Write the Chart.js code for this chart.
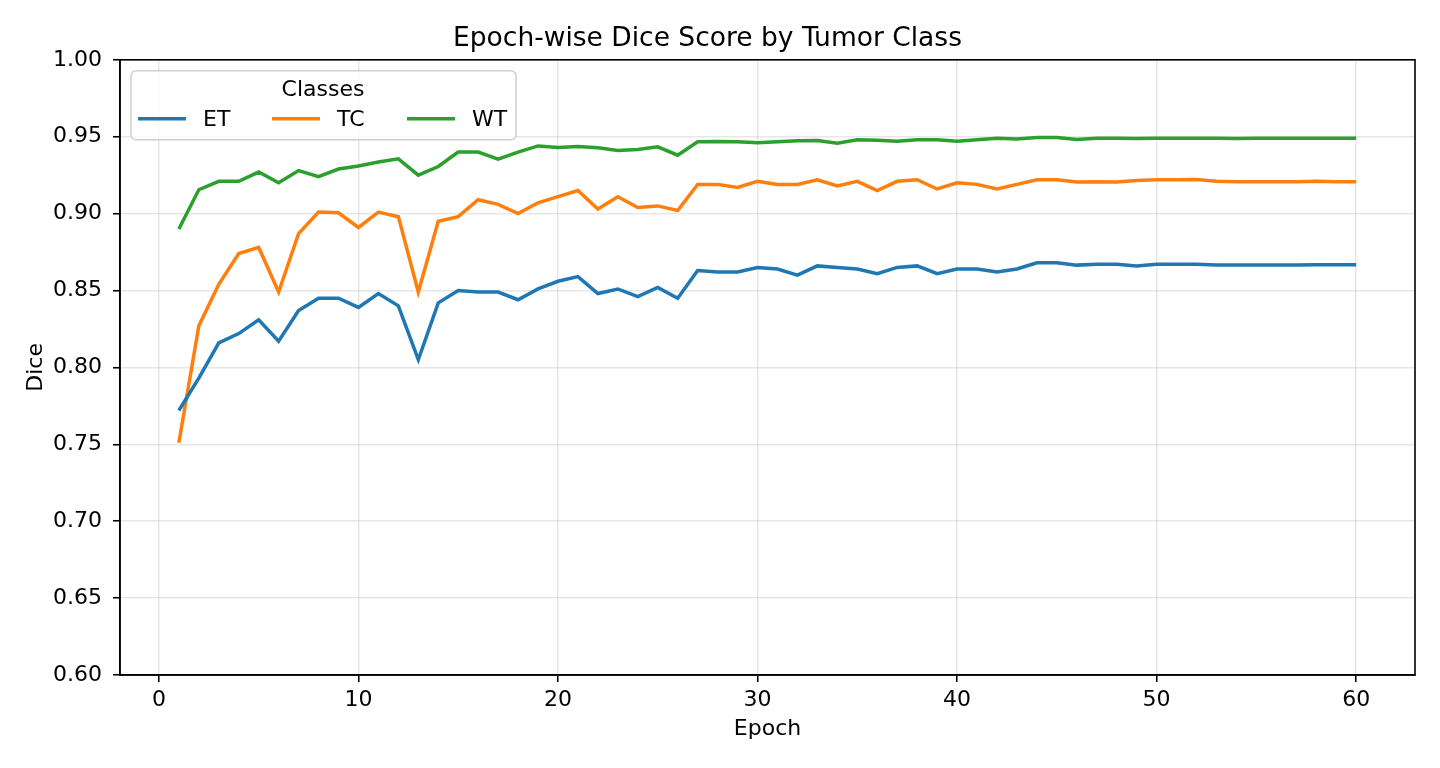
<!DOCTYPE html>
<html>
<head>
<meta charset="utf-8">
<style>
  html, body { margin: 0; padding: 0; background: #fff; }
  #wrap { width: 1440px; height: 768px; }
</style>
<script src="https://cdn.jsdelivr.net/npm/chart.js@4.4.1/dist/chart.umd.min.js"></script>
</head>
<body>
<div id="wrap"><canvas id="myChart" width="1440" height="768"></canvas></div>
<script>
const epochs = [1, 2, 3, 4, 5, 6, 7, 8, 9, 10, 11, 12, 13, 14, 15, 16, 17, 18, 19, 20,
    21, 22, 23, 24, 25, 26, 27, 28, 29, 30, 31, 32, 33, 34, 35, 36, 37, 38, 39, 40,
    41, 42, 43, 44, 45, 46, 47, 48, 49, 50, 51, 52, 53, 54, 55, 56, 57, 58, 59, 60];

const et = [0.772, 0.793, 0.816, 0.822, 0.831, 0.817, 0.837, 0.845, 0.845, 0.839,
    0.848, 0.840, 0.805, 0.842, 0.850, 0.849, 0.849, 0.844, 0.851, 0.856,
    0.859, 0.848, 0.851, 0.846, 0.852, 0.845, 0.863, 0.862, 0.862, 0.865,
    0.864, 0.860, 0.866, 0.865, 0.864, 0.861, 0.865, 0.866, 0.861, 0.864,
    0.864, 0.862, 0.864, 0.868, 0.868, 0.8665, 0.867, 0.867, 0.866, 0.867,
    0.867, 0.867, 0.8665, 0.8665, 0.8665, 0.8665, 0.8665, 0.8667, 0.8667, 0.8667];

const tc = [0.751, 0.827, 0.854, 0.874, 0.878, 0.849, 0.887, 0.901, 0.9005, 0.891,
    0.901, 0.898, 0.849, 0.895, 0.898, 0.909, 0.906, 0.900, 0.907, 0.911,
    0.915, 0.903, 0.911, 0.904, 0.905, 0.902, 0.919, 0.919, 0.917, 0.921,
    0.919, 0.919, 0.922, 0.918, 0.921, 0.915, 0.921, 0.922, 0.916, 0.920,
    0.919, 0.916, 0.919, 0.922, 0.922, 0.9205, 0.9207, 0.9205, 0.9215, 0.922,
    0.922, 0.9222, 0.921, 0.9207, 0.9207, 0.9207, 0.9207, 0.921, 0.9207, 0.9207];

const wt = [0.890, 0.9155, 0.921, 0.921, 0.927, 0.920, 0.928, 0.924, 0.929, 0.931,
    0.9335, 0.9356, 0.925, 0.9306, 0.940, 0.940, 0.9354, 0.940, 0.944, 0.943,
    0.9436, 0.9428, 0.941, 0.9417, 0.9434, 0.938, 0.9467, 0.9469, 0.9467, 0.946,
    0.9467, 0.9473, 0.9475, 0.9458, 0.948, 0.9477, 0.947, 0.948, 0.948, 0.947,
    0.948, 0.949, 0.9485, 0.9495, 0.9495, 0.9482, 0.949, 0.949, 0.9488, 0.949,
    0.949, 0.949, 0.949, 0.9488, 0.949, 0.949, 0.949, 0.949, 0.949, 0.949];

const classNames = ['ET', 'TC', 'WT'];
const xTicks = [0, 10, 20, 30, 40, 50, 60];
const yTicks = [0.60, 0.65, 0.70, 0.75, 0.80, 0.85, 0.90, 0.95, 1.00];

const FONT = "'DejaVu Sans', sans-serif";
const colors = ['#1f77b4', '#ff7f0e', '#2ca02c'];

function toPoints(vals) {
    return epochs.map((e, i) => ({x: e, y: vals[i]}));
}

// matplotlib-ish frame + legend box inside the axes
const framePlugin = {
    id: 'frame',
    afterDraw(chart) {
        const {ctx, chartArea: a} = chart;
        ctx.save();
        ctx.strokeStyle = '#000';
        ctx.lineWidth = 1.6;
        ctx.strokeRect(a.left, a.top, a.right - a.left, a.bottom - a.top);

        // legend
        const bx = a.left + 11, by = a.top + 11, bw = 385, bh = 69;
        ctx.beginPath();
        if (ctx.roundRect) ctx.roundRect(bx, by, bw, bh, 5); else ctx.rect(bx, by, bw, bh);
        ctx.fillStyle = 'rgba(255,255,255,0.8)';
        ctx.fill();
        ctx.strokeStyle = '#d0d0d0';
        ctx.lineWidth = 1.5;
        ctx.stroke();

        ctx.fillStyle = '#000';
        ctx.font = '22px ' + FONT;
        ctx.textBaseline = 'middle';
        ctx.textAlign = 'center';
        ctx.fillText('Classes', bx + 192, by + 19);

        ctx.textAlign = 'left';
        const starts = [7, 141, 276];
        chart.data.datasets.forEach((ds, i) => {
            const x0 = bx + starts[i];
            const y0 = by + 48;
            ctx.strokeStyle = ds.borderColor;
            ctx.lineWidth = 3.5;
            ctx.beginPath();
            ctx.moveTo(x0, y0);
            ctx.lineTo(x0 + 48, y0);
            ctx.stroke();
            ctx.fillStyle = '#000';
            ctx.fillText(ds.label, x0 + 65, y0 + 1);
        });
        ctx.restore();
    }
};

const ctx = document.getElementById('myChart');

new Chart(ctx, {
    type: 'line',
    data: {
        datasets: [
            {label: classNames[0], data: toPoints(et), borderColor: colors[0]},
            {label: classNames[1], data: toPoints(tc), borderColor: colors[1]},
            {label: classNames[2], data: toPoints(wt), borderColor: colors[2]}
        ].map(d => Object.assign(d, {borderWidth: 3.5, pointRadius: 0, tension: 0, fill: false}))
    },
    options: {
        responsive: false,
        devicePixelRatio: 1,
        animation: false,
        layout: {padding: {left: 0, right: 25, top: 0, bottom: 0}},
        plugins: {
            legend: {display: false},
            tooltip: {enabled: false},
            title: {
                display: true,
                text: 'Epoch-wise Dice Score by Tumor Class',
                color: '#000',
                font: {family: FONT, size: 26.5, weight: 'normal', lineHeight: 1.2},
                padding: {top: 23, bottom: 5}
            }
        },
        scales: {
            x: {
                type: 'linear',
                min: -1.95,
                max: 62.95,
                afterBuildTicks: s => { s.ticks = xTicks.map(v => ({value: v})); },
                afterFit: s => { s.height = 93; },
                grid: {
                    color: 'rgba(176,176,176,0.3)',
                    lineWidth: 1.5,
                    tickColor: '#000',
                    tickLength: 7,
                    tickWidth: 1.6
                },
                border: {display: true, color: '#000', width: 1.6},
                ticks: {
                    color: '#000',
                    padding: 5,
                    maxRotation: 0,
                    font: {family: FONT, size: 22}
                },
                title: {
                    display: true,
                    text: 'Epoch',
                    color: '#000',
                    font: {family: FONT, size: 22},
                    padding: {top: 4, bottom: 26}
                }
            },
            y: {
                min: 0.6,
                max: 1.0,
                afterBuildTicks: s => { s.ticks = yTicks.map(v => ({value: v})); },
                afterFit: s => { s.width = 120; },
                grid: {
                    color: 'rgba(176,176,176,0.3)',
                    lineWidth: 1.5,
                    tickColor: '#000',
                    tickLength: 7,
                    tickWidth: 1.6
                },
                border: {display: true, color: '#000', width: 1.6},
                ticks: {
                    color: '#000',
                    padding: 11,
                    font: {family: FONT, size: 22},
                    callback: v => v.toFixed(2)
                },
                title: {
                    display: true,
                    text: 'Dice',
                    color: '#000',
                    font: {family: FONT, size: 22},
                    padding: {top: 23, bottom: 4}
                }
            }
        }
    },
    plugins: [framePlugin]
});
</script>
</body>
</html>
